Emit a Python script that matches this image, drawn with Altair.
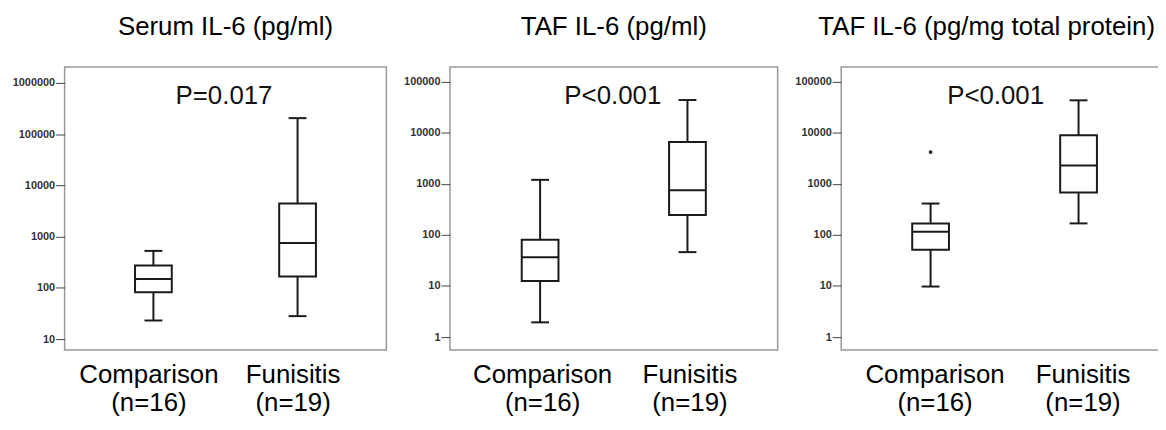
import altair as alt
import pandas as pd

# ---------------- data ----------------
groups = ["Comparison", "Funisitis"]
n_counts = [16, 19]

titles = ["Serum IL-6 (pg/ml)", "TAF IL-6 (pg/ml)", "TAF IL-6 (pg/mg total protein)"]
p_texts = ["P=0.017", "P<0.001", "P<0.001"]

# Serum IL-6 (pg/ml)
serum_low = [23, 28]
serum_q1 = [82, 166]
serum_med = [148, 750]
serum_q3 = [273, 4440]
serum_high = [525, 205000]

# TAF IL-6 (pg/ml)
taf_low = [1.94, 46]
taf_q1 = [12.5, 245]
taf_med = [36.5, 751]
taf_q3 = [80.6, 6580]
taf_high = [1197, 43700]

# TAF IL-6 (pg/mg total protein)
tafp_low = [9.75, 168]
tafp_q1 = [51, 676]
tafp_med = [115, 2290]
tafp_q3 = [168, 8950]
tafp_high = [411, 43100]
tafp_outlier_group = ["Comparison"]
tafp_outlier_value = [4190]

serum_ticks = [10, 100, 1000, 10000, 100000, 1000000]
taf_ticks = [1, 10, 100, 1000, 10000, 100000]
serum_domain = [6.1, 2.04e6]
taf_domain = [0.557, 193700]

# ---------------- style ----------------
FONT = "Liberation Sans"
INK = "#1a1a1a"
LW = 2
BOX_W = 37
CAP_W = 18
H = 285
BIG = 26

label_expr = (
    "[datum.value, datum.value == '" + groups[0] + "' ? '(n=" + str(n_counts[0]) +
    ")' : '(n=" + str(n_counts[1]) + ")']"
)


def panel(title, ptxt, low, q1, med, q3, high, domain, ticks, width, pad,
          p_dx=0, title_dx=0, label_dx=0, out_g=None, out_v=None):
    df = pd.DataFrame({"group": groups, "low": low, "q1": q1, "med": med,
                       "q3": q3, "high": high})
    xaxis = alt.Axis(title=None, ticks=False, domain=False, labelAngle=0,
                     labelFont=FONT, labelFontSize=BIG, labelColor="#000",
                     labelPadding=12, labelLineHeight=28, labelExpr=label_expr,
                     labelOffset=label_dx,
                     labelOverlap=False, labelFlush=False, labelBound=False)
    yaxis = alt.Axis(title=None, grid=False, domain=False, values=ticks, format="d",
                     tickSize=9, tickColor="#444", tickWidth=1, labelPadding=1,
                     labelFont=FONT, labelFontSize=11, labelFontWeight="bold",
                     labelColor="#333")
    xs = alt.Scale(type="point", domain=groups, padding=pad)
    ys = alt.Scale(type="log", domain=domain)
    X = alt.X("group:N", scale=xs, axis=xaxis)

    base = alt.Chart(df)
    lower = base.mark_rule(color=INK, strokeWidth=LW).encode(
        x=X, y=alt.Y("low:Q", scale=ys, axis=yaxis), y2="q1:Q")
    upper = base.mark_rule(color=INK, strokeWidth=LW).encode(
        x=X, y=alt.Y("q3:Q", scale=ys, axis=yaxis), y2="high:Q")
    cap_lo = base.mark_tick(color=INK, size=CAP_W, thickness=LW, opacity=1).encode(
        x=X, y=alt.Y("low:Q", scale=ys, axis=yaxis))
    cap_hi = base.mark_tick(color=INK, size=CAP_W, thickness=LW, opacity=1).encode(
        x=X, y=alt.Y("high:Q", scale=ys, axis=yaxis))
    box = base.mark_bar(size=BOX_W, fill="white", stroke=INK, strokeWidth=LW).encode(
        x=X, y=alt.Y("q1:Q", scale=ys, axis=yaxis), y2="q3:Q")
    median = base.mark_tick(color=INK, size=BOX_W, thickness=LW, opacity=1).encode(
        x=X, y=alt.Y("med:Q", scale=ys, axis=yaxis))
    ptext = alt.Chart(pd.DataFrame({"t": [ptxt]})).mark_text(
        font=FONT, fontSize=BIG, color="#111", baseline="alphabetic", align="center"
    ).encode(text="t:N", x=alt.value(width / 2 + p_dx), y=alt.value(37))

    layers = [lower, upper, cap_lo, cap_hi, box, median]
    if out_g is not None:
        odf = pd.DataFrame({"group": out_g, "value": out_v})
        pts = alt.Chart(odf).mark_circle(color=INK, size=14, opacity=1).encode(
            x=X, y=alt.Y("value:Q", scale=ys, axis=yaxis))
        layers.append(pts)
    layers.append(ptext)

    return alt.layer(*layers).properties(
        width=width, height=H,
        title=alt.TitleParams(title, font=FONT, fontSize=BIG, fontWeight="normal",
                              color="#000", anchor="middle", offset=27, dx=title_dx),
    )


p1 = panel(titles[0], p_texts[0], serum_low, serum_q1, serum_med, serum_q3, serum_high,
           serum_domain, serum_ticks, 324, 0.616, p_dx=-1.5, label_dx=-5)
p2 = panel(titles[1], p_texts[1], taf_low, taf_q1, taf_med, taf_q3, taf_high,
           taf_domain, taf_ticks, 330, 0.612, p_dx=-1, label_dx=2)
p3 = panel(titles[2], p_texts[2], tafp_low, tafp_q1, tafp_med, tafp_q3, tafp_high,
           taf_domain, taf_ticks, 329, 0.604, p_dx=-9, title_dx=-18, label_dx=4,
           out_g=tafp_outlier_group, out_v=tafp_outlier_value)

SVG_W, SVG_H = 1158, 409
PAD_L, PAD_T = 57, 57
chart = alt.hconcat(p1, p2, p3, spacing=64, bounds="flush").configure_view(
    stroke="#999999", strokeWidth=1.5, fill="white"
).properties(
    autosize=alt.AutoSizeParams(type="none"),
    padding={"left": PAD_L, "top": PAD_T, "right": SVG_W - PAD_L, "bottom": SVG_H - PAD_T},
    background="white",
)

chart.save("out.html", embed_options={"renderer": "svg", "actions": False})
